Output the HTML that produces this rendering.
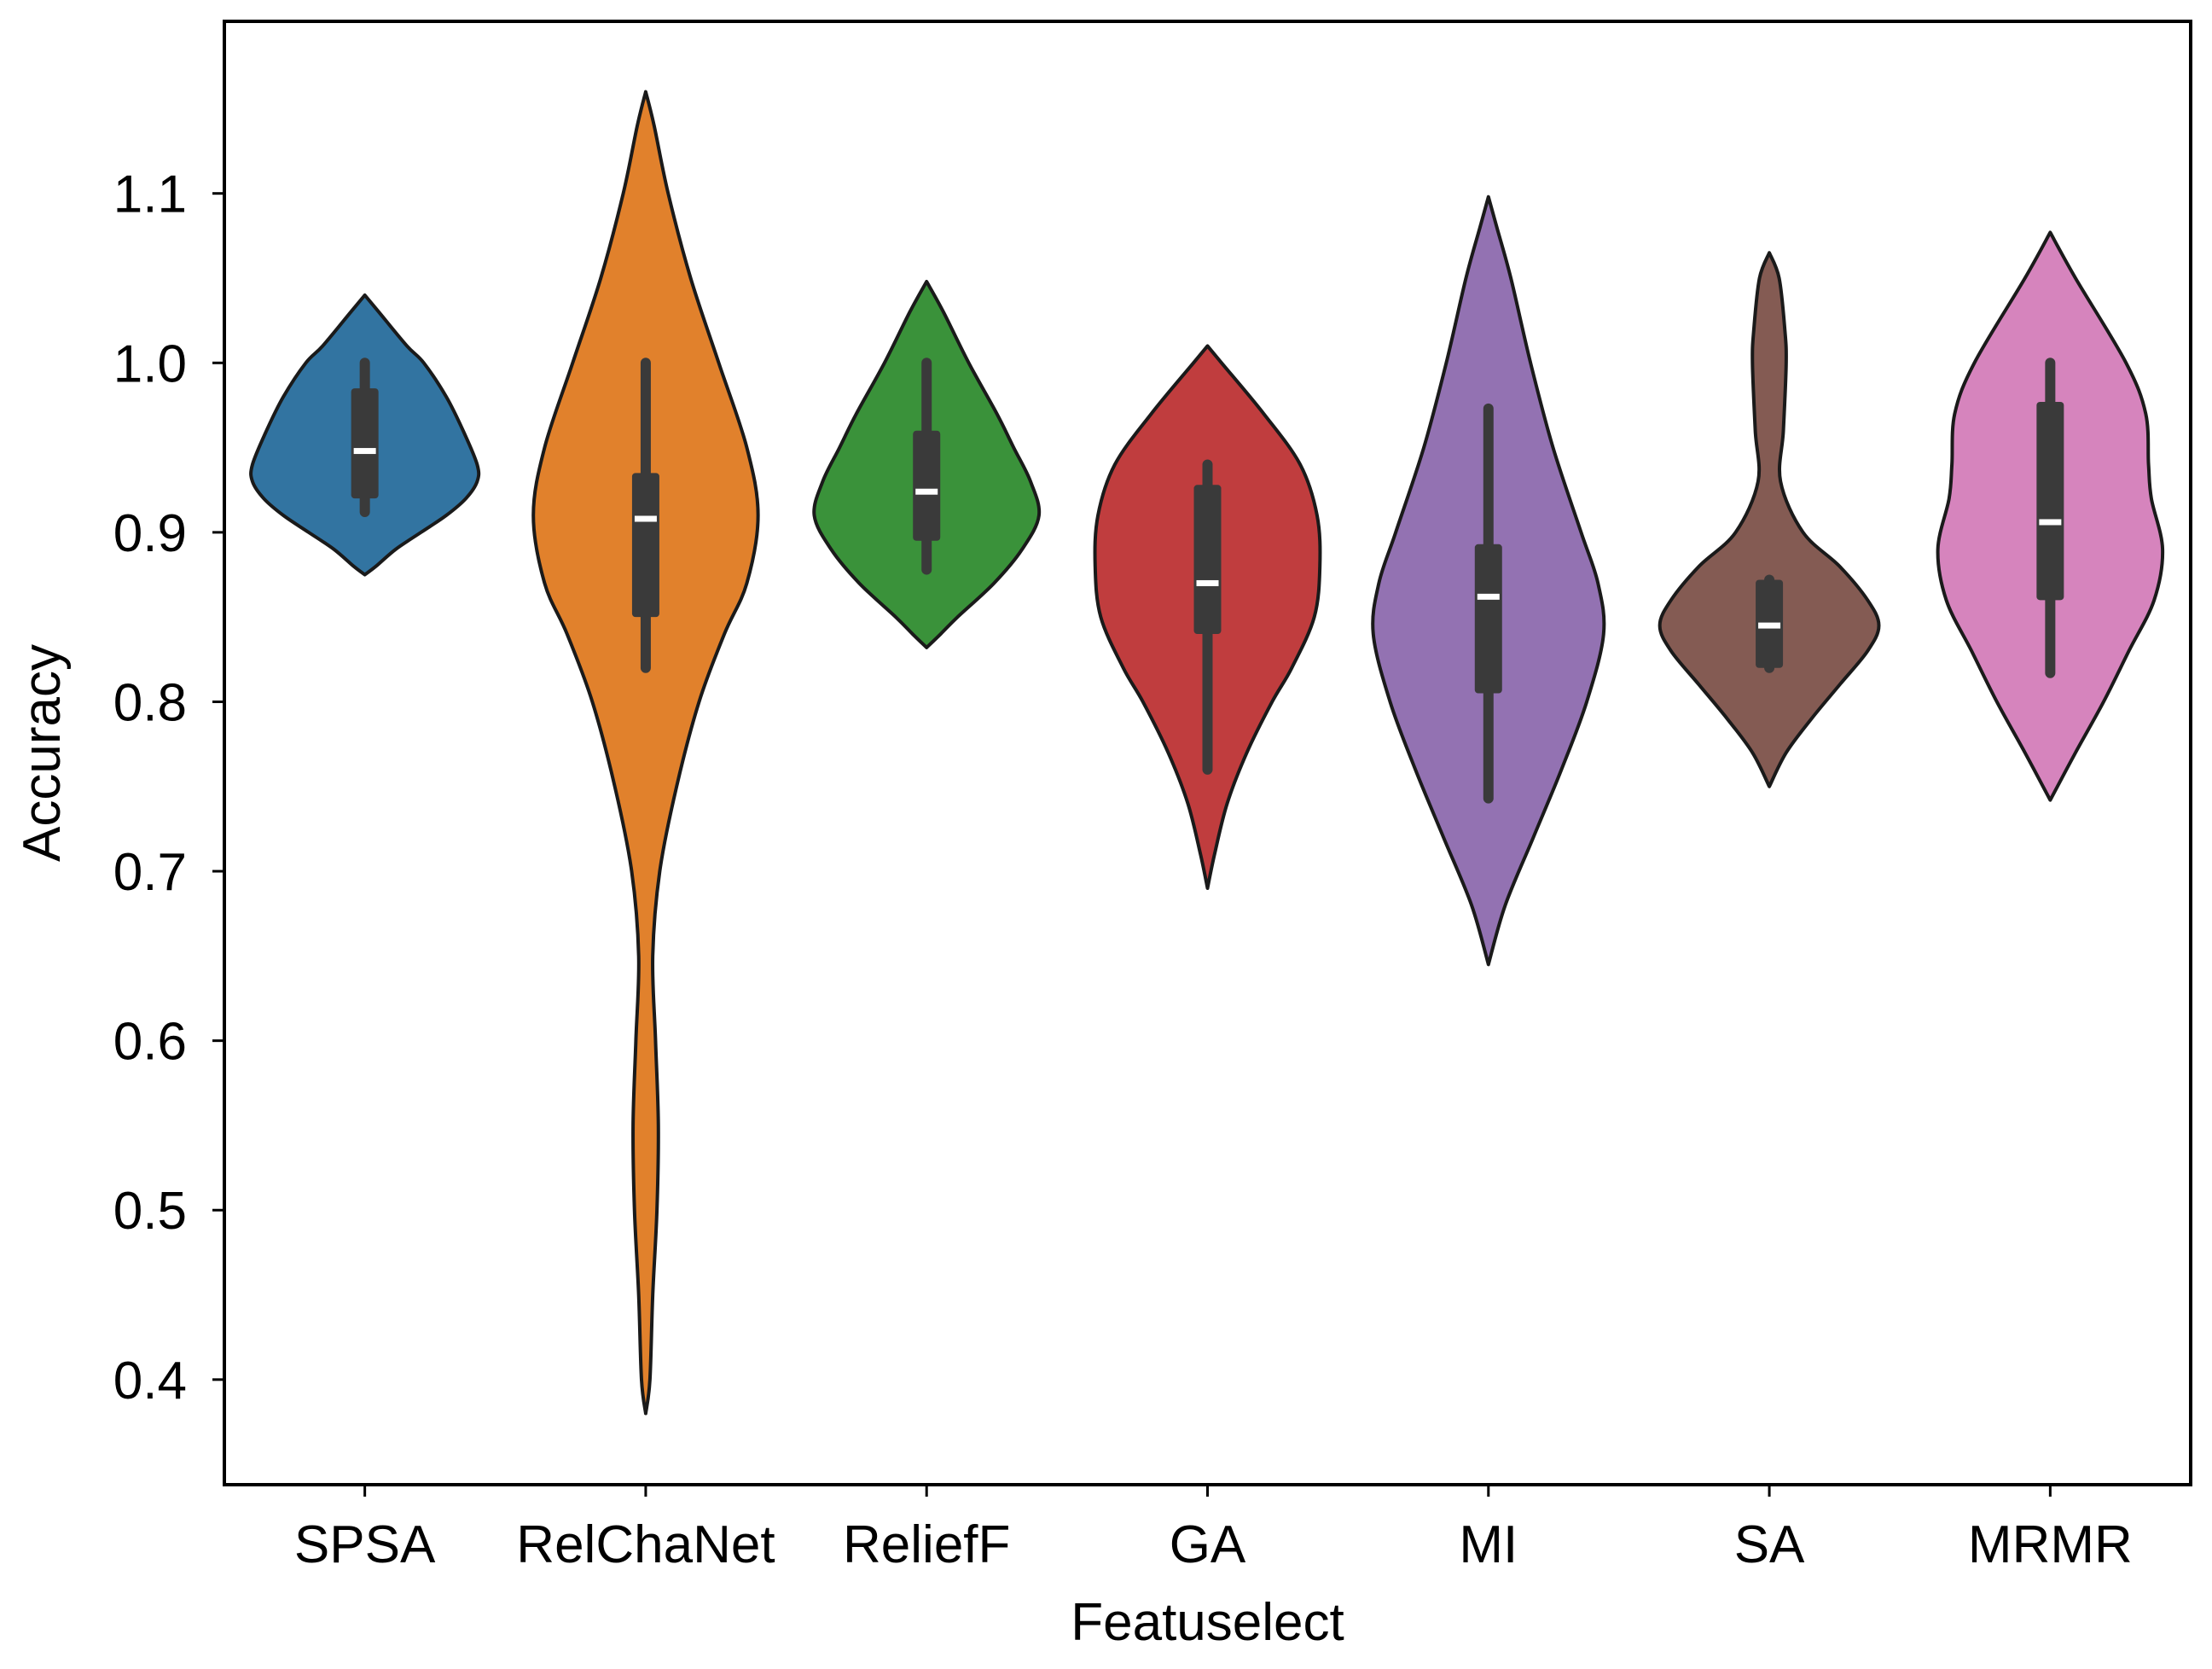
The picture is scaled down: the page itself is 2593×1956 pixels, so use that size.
<!DOCTYPE html>
<html><head><meta charset="utf-8"><style>
html,body{margin:0;padding:0;background:#fff}
svg{display:block}
text{font-family:"Liberation Sans","DejaVu Sans",sans-serif;fill:#000}
</style></head><body>
<svg id="chart" width="2593" height="1956" viewBox="0 0 2593 1956" xmlns="http://www.w3.org/2000/svg">
<g id="violins"></g>
<g id="axes"></g>
</svg>
<script>
const categories = ["SPSA","RelChaNet","ReliefF","GA","MI","SA","MRMR"];
const colors = ["#3274a1","#e1812c","#3a923a","#c03d3e","#9372b2","#845b53","#d684bd"];
const yTicks = [0.4,0.5,0.6,0.7,0.8,0.9,1.0,1.1];
const yTickLabels = ["0.4","0.5","0.6","0.7","0.8","0.9","1.0","1.1"];
// density profiles: [accuracy, half-width as fraction of category band]
const profSPSA = [[1.04,0],[1.03,0.05],[1.01,0.15],[1.0,0.21],[0.98,0.29],[0.96,0.35],[0.94,0.40],[0.93,0.40],[0.92,0.36],[0.91,0.29],[0.9,0.20],[0.89,0.11],[0.88,0.04],[0.875,0]];
const profRelChaNet = [[1.16,0],[1.14,0.03],[1.1,0.08],[1.05,0.16],[1.0,0.26],[0.95,0.36],[0.91,0.40],[0.87,0.36],[0.84,0.28],[0.8,0.19],[0.75,0.11],[0.7,0.05],[0.65,0.025],[0.6,0.035],[0.55,0.045],[0.5,0.04],[0.45,0.025],[0.4,0.015],[0.38,0]];
const profReliefF = [[1.048,0],[1.03,0.06],[1.0,0.15],[0.97,0.25],[0.95,0.31],[0.93,0.37],[0.91,0.40],[0.89,0.34],[0.87,0.24],[0.85,0.11],[0.84,0.05],[0.832,0]];
const profGA = [[1.01,0],[1.0,0.05],[0.97,0.20],[0.94,0.33],[0.91,0.39],[0.88,0.40],[0.85,0.38],[0.82,0.30],[0.8,0.23],[0.77,0.14],[0.74,0.07],[0.71,0.025],[0.69,0]];
const profMI = [[1.098,0],[1.08,0.03],[1.05,0.08],[1.0,0.15],[0.95,0.23],[0.9,0.33],[0.87,0.39],[0.84,0.41],[0.8,0.35],[0.76,0.26],[0.72,0.16],[0.68,0.06],[0.645,0]];
const profSA = [[1.065,0],[1.05,0.035],[1.02,0.055],[1.0,0.06],[0.96,0.05],[0.93,0.04],[0.9,0.12],[0.88,0.25],[0.86,0.35],[0.845,0.39],[0.83,0.35],[0.81,0.25],[0.79,0.15],[0.77,0.06],[0.75,0]];
const profMRMR = [[1.077,0],[1.05,0.09],[1.0,0.27],[0.97,0.34],[0.94,0.35],[0.92,0.36],[0.89,0.40],[0.86,0.37],[0.83,0.28],[0.8,0.19],[0.77,0.09],[0.742,0]];
const profiles = [profSPSA,profRelChaNet,profReliefF,profGA,profMI,profSA,profMRMR];
const q1 = [0.92,0.85,0.895,0.84,0.805,0.82,0.86];
const q3 = [0.985,0.935,0.96,0.928,0.893,0.872,0.977];
const whiskLo = [0.912,0.82,0.878,0.76,0.743,0.82,0.817];
const whiskHi = [1.0,1.0,1.0,0.94,0.973,0.872,1.0];
const medians = [0.948,0.908,0.924,0.87,0.862,0.845,0.906];

const L=263,R=2568,T=25,B=1740;
const band=(R-L)/categories.length;
const x=i=>L+band*(i+0.5);
const y=v=>226.7+(1.1-v)*1985.9;
const NS="http://www.w3.org/2000/svg";
function mk(tag,parent,attrs){const e=document.createElementNS(NS,tag);for(const k in attrs)e.setAttribute(k,attrs[k]);parent.appendChild(e);return e;}
function smooth(pts){let d=`M${pts[0][0]},${pts[0][1]}`;for(let i=0;i<pts.length-1;i++){const p0=pts[Math.max(i-1,0)],p1=pts[i],p2=pts[i+1],p3=pts[Math.min(i+2,pts.length-1)];const c1=[p1[0]+(p2[0]-p0[0])/6,p1[1]+(p2[1]-p0[1])/6],c2=[p2[0]-(p3[0]-p1[0])/6,p2[1]-(p3[1]-p1[1])/6];d+=` C${c1[0]},${c1[1]} ${c2[0]},${c2[1]} ${p2[0]},${p2[1]}`;}return d;}
const gv=document.getElementById('violins');
profiles.forEach((prof,i)=>{
  const cx=x(i);
  const right=prof.map(p=>[cx+p[1]*band,y(p[0])]);
  const left=prof.slice().reverse().map(p=>[cx-p[1]*band,y(p[0])]);
  const d=smooth(right)+" "+smooth(left).replace(/^M/,"L")+" Z";
  const g=mk('g',gv,{});
  
  
  const p=mk('path',g,{d:d,fill:colors[i],stroke:'#1a1a1a','stroke-width':4,'stroke-linejoin':'round'});
  
  
  const w=mk('line',g,{x1:cx,x2:cx,y1:y(whiskHi[i]),y2:y(whiskLo[i]),stroke:'#3a3a3a','stroke-width':12,'stroke-linecap':'round'});
  
  
  const b=mk('rect',g,{x:cx-16,y:y(q3[i]),width:32,height:y(q1[i])-y(q3[i]),fill:'#3a3a3a',rx:4});
  
  
  const m=mk('rect',g,{x:cx-13,y:y(medians[i])-3.5,width:26,height:7,fill:'#fff'});
  
  
});
const ga=document.getElementById('axes');
const frame=mk('rect',ga,{x:L,y:T,width:R-L,height:B-T,fill:'none',stroke:'#000','stroke-width':4});


yTicks.forEach((v,k)=>{
  const t=mk('line',ga,{x1:L-14,x2:L,y1:y(v),y2:y(v),stroke:'#000','stroke-width':3});
  
  
  const tx=mk('text',ga,{x:L-44,y:y(v)+22,'text-anchor':'end','font-size':62});
  tx.textContent=yTickLabels[k];
  
  
});
categories.forEach((c,i)=>{
  const t=mk('line',ga,{x1:x(i),x2:x(i),y1:B,y2:B+14,stroke:'#000','stroke-width':3});
  
  
  const tx=mk('text',ga,{x:x(i),y:1831,'text-anchor':'middle','font-size':62});
  tx.textContent=c;
  
  
});
const xl=mk('text',ga,{x:(L+R)/2,y:1922,'text-anchor':'middle','font-size':62});
xl.textContent='Featuselect';


const yl=mk('text',ga,{x:0,y:0,'text-anchor':'middle','font-size':62,transform:'translate(70,'+((T+B)/2)+') rotate(-90)'});
yl.textContent='Accuracy';


</script>
</body></html>
